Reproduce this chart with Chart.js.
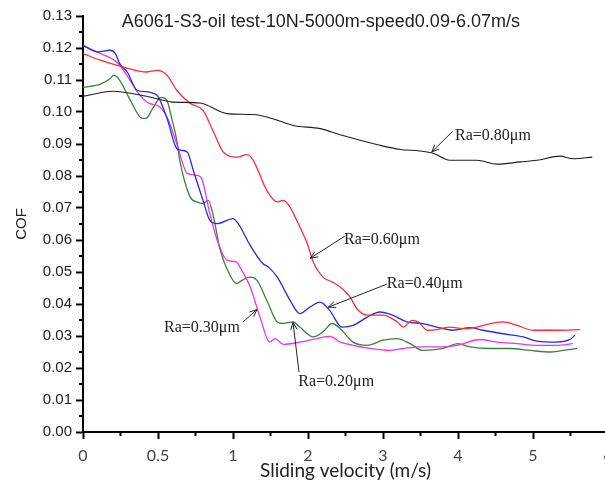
<!DOCTYPE html>
<html>
<head>
<meta charset="utf-8">
<script src="https://cdn.jsdelivr.net/npm/chart.js@4.4.0/dist/chart.umd.min.js"></script>
<style>
  html, body { margin: 0; padding: 0; background: #fff; overflow: hidden; }
  #wrap { width: 625px; height: 485px; }
</style>
</head>
<body>
<div id="wrap"><canvas id="myChart" width="625" height="485"></canvas></div>
<script>
// x values are axis positions: major tick k sits at position k and reads xTickLabels[k]
const xTickLabels = ['0', '0.5', '1', '2', '3', '4', '5', '6'];

const chartTitle = 'A6061-S3-oil test-10N-5000m-speed0.09-6.07m/s';

// Ra = 0.80 um (black)
const ra080X = [0, 0.40, 0.85, 1.20, 1.56, 1.92, 2.27, 2.53, 2.80, 3.16, 3.43, 3.96, 4.23, 4.49, 4.67, 4.89, 5.25, 5.52, 5.83, 6.05, 6.36, 6.53, 6.79];
const ra080Y = [0.1049, 0.1065, 0.1049, 0.1031, 0.1028, 0.0995, 0.0992, 0.0979, 0.0958, 0.0948, 0.0929, 0.0896, 0.0883, 0.0878, 0.0871, 0.0849, 0.0849, 0.0837, 0.0844, 0.0849, 0.0862, 0.0854, 0.0859];

// Ra = 0.60 um (red)
const ra060X = [0, 0.23, 0.53, 0.85, 0.99, 1.12, 1.25, 1.43, 1.60, 1.73, 1.87, 2.05, 2.19, 2.27, 2.45, 2.59, 2.67, 2.76, 2.89, 2.99, 3.07, 3.20, 3.32, 3.43, 3.56, 3.65, 3.79, 4.00, 4.19, 4.27, 4.39, 4.47, 4.59, 4.72, 4.89, 5.07, 5.25, 5.43, 5.60, 5.79, 6.00, 6.32, 6.63];
const ra060Y = [0.1183, 0.1162, 0.1141, 0.1125, 0.1130, 0.1115, 0.1068, 0.1027, 0.1005, 0.0943, 0.0875, 0.0859, 0.0867, 0.0849, 0.0755, 0.0719, 0.0724, 0.0703, 0.0641, 0.0589, 0.0531, 0.0484, 0.0469, 0.0453, 0.0422, 0.0386, 0.0365, 0.0365, 0.0344, 0.0328, 0.0349, 0.0344, 0.0318, 0.0320, 0.0328, 0.0323, 0.0328, 0.0339, 0.0344, 0.0333, 0.0318, 0.0318, 0.0320];

// Ra = 0.40 um (blue)
const ra040X = [0, 0.19, 0.36, 0.43, 0.49, 0.59, 0.72, 0.87, 0.93, 1.00, 1.12, 1.25, 1.32, 1.39, 1.47, 1.60, 1.69, 1.79, 2.00, 2.07, 2.23, 2.40, 2.47, 2.59, 2.76, 2.89, 3.03, 3.16, 3.29, 3.45, 3.60, 3.79, 3.96, 4.13, 4.32, 4.53, 4.72, 4.93, 5.16, 5.33, 5.60, 5.87, 6.05, 6.32, 6.49, 6.56];
const ra040Y = [0.1208, 0.1188, 0.1193, 0.1183, 0.1151, 0.1125, 0.1068, 0.1063, 0.1059, 0.1049, 0.0980, 0.0886, 0.0880, 0.0875, 0.0818, 0.0724, 0.0662, 0.0651, 0.0667, 0.0651, 0.0583, 0.0526, 0.0516, 0.0484, 0.0412, 0.0370, 0.0391, 0.0406, 0.0380, 0.0328, 0.0333, 0.0359, 0.0375, 0.0365, 0.0344, 0.0339, 0.0328, 0.0318, 0.0326, 0.0318, 0.0307, 0.0297, 0.0284, 0.0281, 0.0289, 0.0302];

// Ra = 0.30 um (magenta)
const ra030X = [0, 0.23, 0.45, 0.60, 0.76, 0.89, 0.99, 1.12, 1.25, 1.39, 1.52, 1.59, 1.69, 1.79, 1.92, 2.05, 2.09, 2.23, 2.36, 2.49, 2.56, 2.67, 2.89, 3.12, 3.29, 3.43, 3.60, 3.83, 4.09, 4.27, 4.53, 4.76, 4.99, 5.29, 5.52, 5.79, 6.05, 6.32, 6.53];
const ra030Y = [0.1208, 0.1183, 0.1156, 0.1109, 0.1052, 0.1026, 0.1021, 0.0984, 0.0901, 0.0808, 0.0802, 0.0787, 0.0683, 0.0599, 0.0537, 0.0531, 0.0516, 0.0453, 0.0359, 0.0281, 0.0292, 0.0274, 0.0281, 0.0292, 0.0299, 0.0281, 0.0271, 0.0261, 0.0255, 0.0261, 0.0266, 0.0266, 0.0271, 0.0289, 0.0281, 0.0276, 0.0271, 0.0271, 0.0276];

// Ra = 0.20 um (green)
const ra020X = [0, 0.23, 0.36, 0.41, 0.49, 0.63, 0.79, 0.84, 0.93, 1.04, 1.11, 1.19, 1.25, 1.29, 1.43, 1.52, 1.60, 1.67, 1.73, 1.83, 1.96, 2.05, 2.12, 2.23, 2.32, 2.45, 2.59, 2.67, 2.80, 2.89, 3.07, 3.20, 3.32, 3.43, 3.60, 3.79, 4.00, 4.19, 4.36, 4.53, 4.80, 5.00, 5.16, 5.43, 5.69, 5.96, 6.23, 6.40, 6.59];
const ra020Y = [0.1077, 0.1087, 0.1104, 0.1115, 0.1099, 0.1037, 0.0980, 0.0980, 0.1011, 0.1046, 0.1040, 0.0974, 0.0912, 0.0849, 0.0734, 0.0719, 0.0714, 0.0724, 0.0683, 0.0568, 0.0490, 0.0464, 0.0474, 0.0484, 0.0474, 0.0412, 0.0344, 0.0339, 0.0344, 0.0328, 0.0297, 0.0313, 0.0339, 0.0323, 0.0281, 0.0271, 0.0287, 0.0292, 0.0276, 0.0255, 0.0261, 0.0276, 0.0266, 0.0261, 0.0261, 0.0255, 0.0250, 0.0255, 0.0261];

// callouts: arrow tip on the curve, arrow tail, text start (x, baseline) in axis units
const callouts = [
  { text: 'Ra=0.80\u03bcm', tip: [4.65, 0.0875], tail: [4.93, 0.0940], at: [4.96, 0.0912] },
  { text: 'Ra=0.60\u03bcm', tip: [3.03, 0.0543], tail: [3.49, 0.0612], at: [3.48, 0.0589] },
  { text: 'Ra=0.40\u03bcm', tip: [3.27, 0.0390], tail: [4.05, 0.0462], at: [4.05, 0.0450] },
  { text: 'Ra=0.30\u03bcm', tip: [2.32, 0.0383], tail: [2.13, 0.0343], at: [1.08, 0.0313] },
  { text: 'Ra=0.20\u03bcm', tip: [2.80, 0.0343], tail: [2.88, 0.0187], at: [2.87, 0.0145] }
];

function pts(xs, ys) {
  return xs.map((x, i) => ({ x: x, y: ys[i] }));
}

// minor ticks, chart title and arrow callouts
const extras = {
  id: 'extras',
  afterDraw(chart) {
    const ctx = chart.ctx;
    const xs = chart.scales.x;
    const ys = chart.scales.y;
    ctx.save();

    ctx.strokeStyle = '#000';
    ctx.lineWidth = 2;
    ctx.beginPath();
    for (let k = 0; k < xTickLabels.length - 1; k++) {
      const px = xs.getPixelForValue(k + 0.5);
      ctx.moveTo(px, ys.bottom);
      ctx.lineTo(px, ys.bottom + 4);
    }
    for (let k = 0; k < 13; k++) {
      const py = ys.getPixelForValue(k * 0.01 + 0.005);
      ctx.moveTo(xs.left - 4, py);
      ctx.lineTo(xs.left, py);
    }
    ctx.stroke();

    ctx.fillStyle = '#222';
    ctx.font = '18px "Liberation Sans", Arial, sans-serif';
    ctx.textAlign = 'left';
    ctx.textBaseline = 'alphabetic';
    ctx.fillText(chartTitle, xs.getPixelForValue(0.516), ys.top + 11);

    ctx.font = '16px "Liberation Serif", serif';
    ctx.lineWidth = 1;
    ctx.strokeStyle = '#222';
    callouts.forEach(c => {
      const tx = xs.getPixelForValue(c.tip[0]), ty = ys.getPixelForValue(c.tip[1]);
      const sx = xs.getPixelForValue(c.tail[0]), sy = ys.getPixelForValue(c.tail[1]);
      const a = Math.atan2(ty - sy, tx - sx);
      ctx.beginPath();
      ctx.moveTo(sx, sy);
      ctx.lineTo(tx, ty);
      ctx.moveTo(tx - 8 * Math.cos(a - 0.4), ty - 8 * Math.sin(a - 0.4));
      ctx.lineTo(tx, ty);
      ctx.lineTo(tx - 8 * Math.cos(a + 0.4), ty - 8 * Math.sin(a + 0.4));
      ctx.stroke();
      ctx.fillText(c.text, xs.getPixelForValue(c.at[0]), ys.getPixelForValue(c.at[1]));
    });
    ctx.restore();
  }
};

const data = {
  datasets: [
    { label: 'Ra=0.80\u03bcm', data: pts(ra080X, ra080Y), borderColor: '#1e1e1e', borderWidth: 1.1 },
    { label: 'Ra=0.60\u03bcm', data: pts(ra060X, ra060Y), borderColor: '#f2303a' },
    { label: 'Ra=0.40\u03bcm', data: pts(ra040X, ra040Y), borderColor: '#2b2bd8' },
    { label: 'Ra=0.30\u03bcm', data: pts(ra030X, ra030Y), borderColor: '#e838e0' },
    { label: 'Ra=0.20\u03bcm', data: pts(ra020X, ra020Y), borderColor: '#3f7f3f' }
  ]
};

const config = {
  type: 'line',
  data: data,
  options: {
    responsive: false,
    animation: false,
    layout: { padding: { left: 0, right: 17, top: 16, bottom: 0 } },
    elements: {
      point: { radius: 0 },
      line: { borderWidth: 1.3, cubicInterpolationMode: 'monotone', fill: false }
    },
    plugins: {
      legend: { display: false },
      tooltip: { enabled: false }
    },
    scales: {
      x: {
        type: 'linear',
        min: 0,
        max: xTickLabels.length - 1,
        afterFit: s => { s.height = 53; },
        border: { color: '#000', width: 2 },
        grid: { drawOnChartArea: false, drawTicks: true, tickLength: 7, tickColor: '#000', tickWidth: 2 },
        ticks: {
          stepSize: 1,
          padding: 7,
          maxRotation: 0,
          color: '#444',
          font: { family: 'Lato', size: 16 },
          callback: v => xTickLabels[v]
        },
        title: {
          display: true,
          text: 'Sliding velocity (m/s)',
          color: '#222',
          font: { family: 'Lato', size: 19 },
          padding: { top: 0, bottom: 3 }
        }
      },
      y: {
        min: 0,
        max: 0.13,
        afterFit: s => { s.width = 83; },
        border: { color: '#000', width: 2 },
        grid: { drawOnChartArea: false, drawTicks: true, tickLength: 7, tickColor: '#000', tickWidth: 2 },
        ticks: {
          stepSize: 0.01,
          padding: 4,
          color: '#222',
          font: { family: 'Liberation Sans', size: 15 },
          callback: v => v.toFixed(2)
        },
        title: {
          display: true,
          text: 'COF',
          color: '#222',
          font: { family: 'Liberation Sans', size: 15 },
          padding: { top: 13, bottom: 0 }
        }
      }
    }
  },
  plugins: [extras]
};

const myChart = new Chart(document.getElementById('myChart'), config);
</script>
</body>
</html>
